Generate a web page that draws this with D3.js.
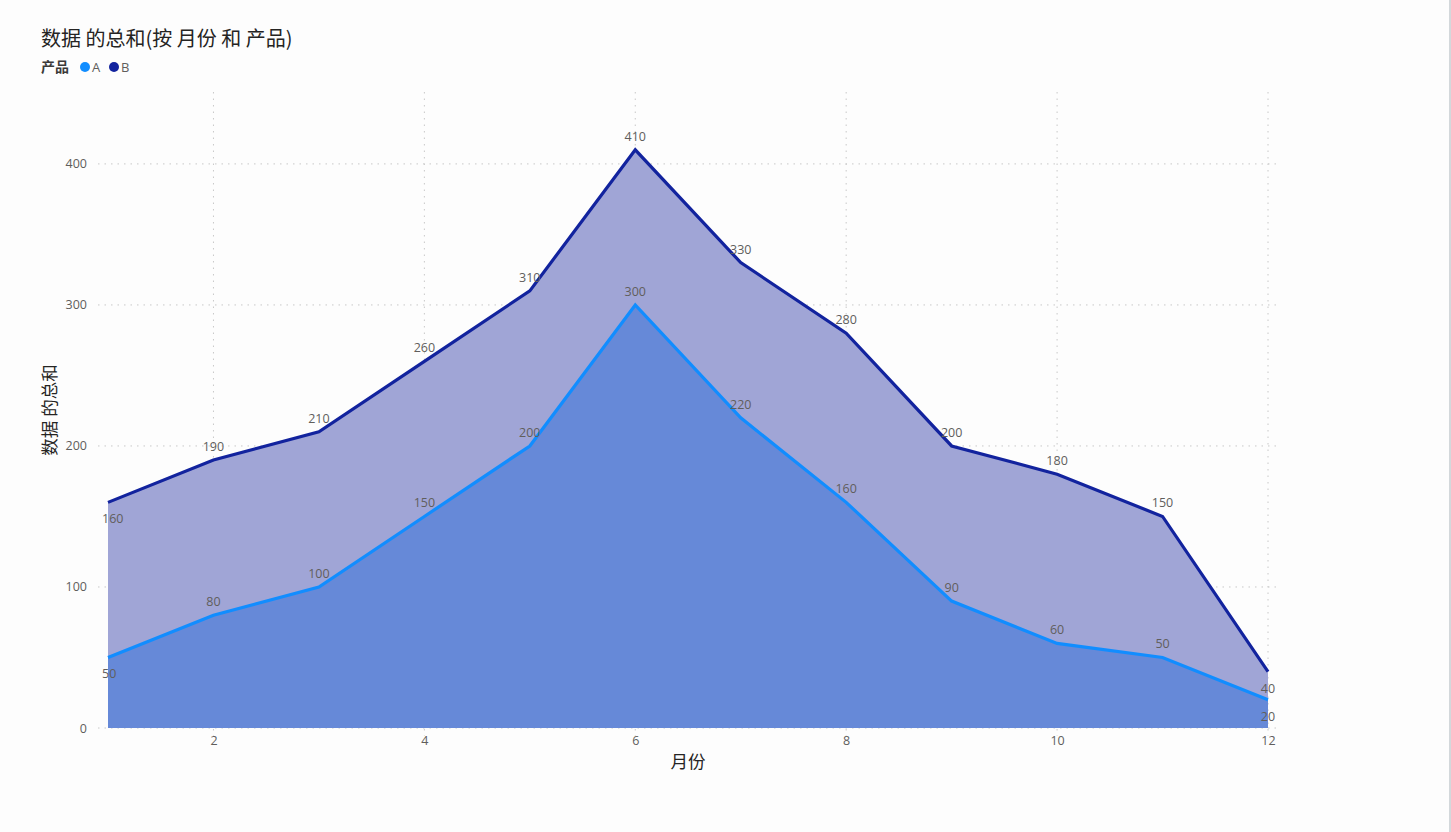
<!DOCTYPE html>
<html>
<head>
<meta charset="utf-8">
<script src="https://cdn.jsdelivr.net/npm/d3@7"></script>
<style>
  body { margin: 0; background: #fdfdfd; }
  svg text { font-family: "Segoe UI", "Open Sans", "Noto Sans CJK SC", sans-serif; }
</style>
</head>
<body>
<div id="chart"></div>
<script>
const months = [1, 2, 3, 4, 5, 6, 7, 8, 9, 10, 11, 12];
const valuesA = [50, 80, 100, 150, 200, 300, 220, 160, 90, 60, 50, 20];
const valuesB = [160, 190, 210, 260, 310, 410, 330, 280, 200, 180, 150, 40];
const xTicks = [2, 4, 6, 8, 10, 12];
const yTicks = [0, 100, 200, 300, 400];
const seriesNames = ["A", "B"];

const w = 1451;
const h = 832;
const colorA = "#118DFF";
const colorB = "#12239E";
const cjk = "'Noto Sans CJK SC', sans-serif";

const svg = d3.select("#chart").append("svg").attr("width", w).attr("height", h);

// borde derecho
svg.append("rect").attr("x", 1449).attr("y", 0).attr("width", 2).attr("height", h).attr("fill", "#d3d8db");

// Escalas
const xScale = d3.scaleLinear().domain([1, 12]).range([108, 1268]);
const yScale = d3.scaleLinear().domain([0, 451]).range([728, 92]);

// Rejilla
svg.append("g")
  .selectAll("line")
  .data(yTicks)
  .enter()
  .append("line")
  .attr("x1", 98)
  .attr("x2", 1280)
  .attr("y1", (d) => yScale(d))
  .attr("y2", (d) => yScale(d))
  .attr("stroke", "#c8c8c8")
  .attr("stroke-dasharray", "1.5,5");

svg.append("g")
  .selectAll("line")
  .data(xTicks)
  .enter()
  .append("line")
  .attr("x1", (d) => xScale(d))
  .attr("x2", (d) => xScale(d))
  .attr("y1", yScale(451))
  .attr("y2", yScale(0) + 8)
  .attr("stroke", "#c8c8c8")
  .attr("stroke-dasharray", "1.5,5");

// Areas
const dataA = months.map((m, i) => [m, valuesA[i]]);
const dataB = months.map((m, i) => [m, valuesB[i]]);

const area = d3.area().x((d) => xScale(d[0])).y0(yScale(0)).y1((d) => yScale(d[1]));
const line = d3.line().x((d) => xScale(d[0])).y((d) => yScale(d[1]));

svg.append("path").datum(dataB).attr("d", area).attr("fill", "#a0a5d6");
svg.append("path").datum(dataA).attr("d", area).attr("fill", "#6689d8");
svg.append("path").datum(dataB).attr("d", line).attr("fill", "none").attr("stroke", colorB).attr("stroke-width", 3.2);
svg.append("path").datum(dataA).attr("d", line).attr("fill", "none").attr("stroke", colorA).attr("stroke-width", 3.2);

// Ejes
const xAxis = d3.axisBottom(xScale).tickValues(xTicks).tickSize(0).tickPadding(8);
const yAxis = d3.axisLeft(yScale).tickValues(yTicks).tickSize(0).tickPadding(0);

svg.append("g")
  .attr("transform", `translate(0, ${yScale(0)})`)
  .call(xAxis)
  .call((g) => g.select(".domain").remove())
  .selectAll("text")
  .attr("fill", "#605e5c")
  .style("font-size", "12.5px");

svg.append("g")
  .attr("transform", "translate(87,0)")
  .call(yAxis)
  .call((g) => g.select(".domain").remove())
  .selectAll("text")
  .attr("fill", "#605e5c")
  .style("font-size", "12.5px");

// Etiquetas de datos
function labels(data) {
  svg.append("g")
    .selectAll("text")
    .data(data)
    .enter()
    .append("text")
    .attr("x", (d) => (d[0] === 1 ? xScale(d[0]) - 6 : xScale(d[0])))
    .attr("y", (d) => (d[0] === 1 || d[0] === 12 ? yScale(d[1]) + 21 : yScale(d[1]) - 9))
    .attr("text-anchor", (d) => (d[0] === 1 ? "start" : "middle"))
    .attr("fill", "#605e5c")
    .style("font-size", "12.5px")
    .text((d) => d[1]);
}
labels(dataB);
labels(dataA);

// Titulos de ejes
svg.append("text")
  .attr("x", 688)
  .attr("y", 768)
  .attr("text-anchor", "middle")
  .attr("fill", "#252423")
  .style("font-family", cjk)
  .style("font-size", "17.5px")
  .text("月份");

svg.append("text")
  .attr("transform", "translate(56,410) rotate(-90)")
  .attr("text-anchor", "middle")
  .attr("fill", "#252423")
  .style("font-family", cjk)
  .style("font-size", "17.5px")
  .text("数据 的总和");

// Titulo
svg.append("text")
  .attr("x", 41)
  .attr("y", 46)
  .attr("fill", "#252423")
  .style("font-family", cjk)
  .style("font-size", "20px")
  .text("数据 的总和(按 月份 和 产品)");

// Leyenda
svg.append("text")
  .attr("x", 41)
  .attr("y", 72)
  .attr("fill", "#3b3a39")
  .style("font-family", cjk)
  .style("font-size", "14px")
  .style("font-weight", "bold")
  .text("产品");

const legend = svg.append("g")
  .selectAll("g")
  .data(seriesNames)
  .enter()
  .append("g")
  .attr("transform", (d, i) => `translate(${85 + i * 29}, 67)`);

legend.append("circle").attr("r", 5).attr("fill", (d, i) => (i === 0 ? colorA : colorB));
legend.append("text")
  .attr("x", 7)
  .attr("y", 4.5)
  .attr("fill", "#605e5c")
  .style("font-size", "13px")
  .text((d) => d);
</script>
</body>
</html>
